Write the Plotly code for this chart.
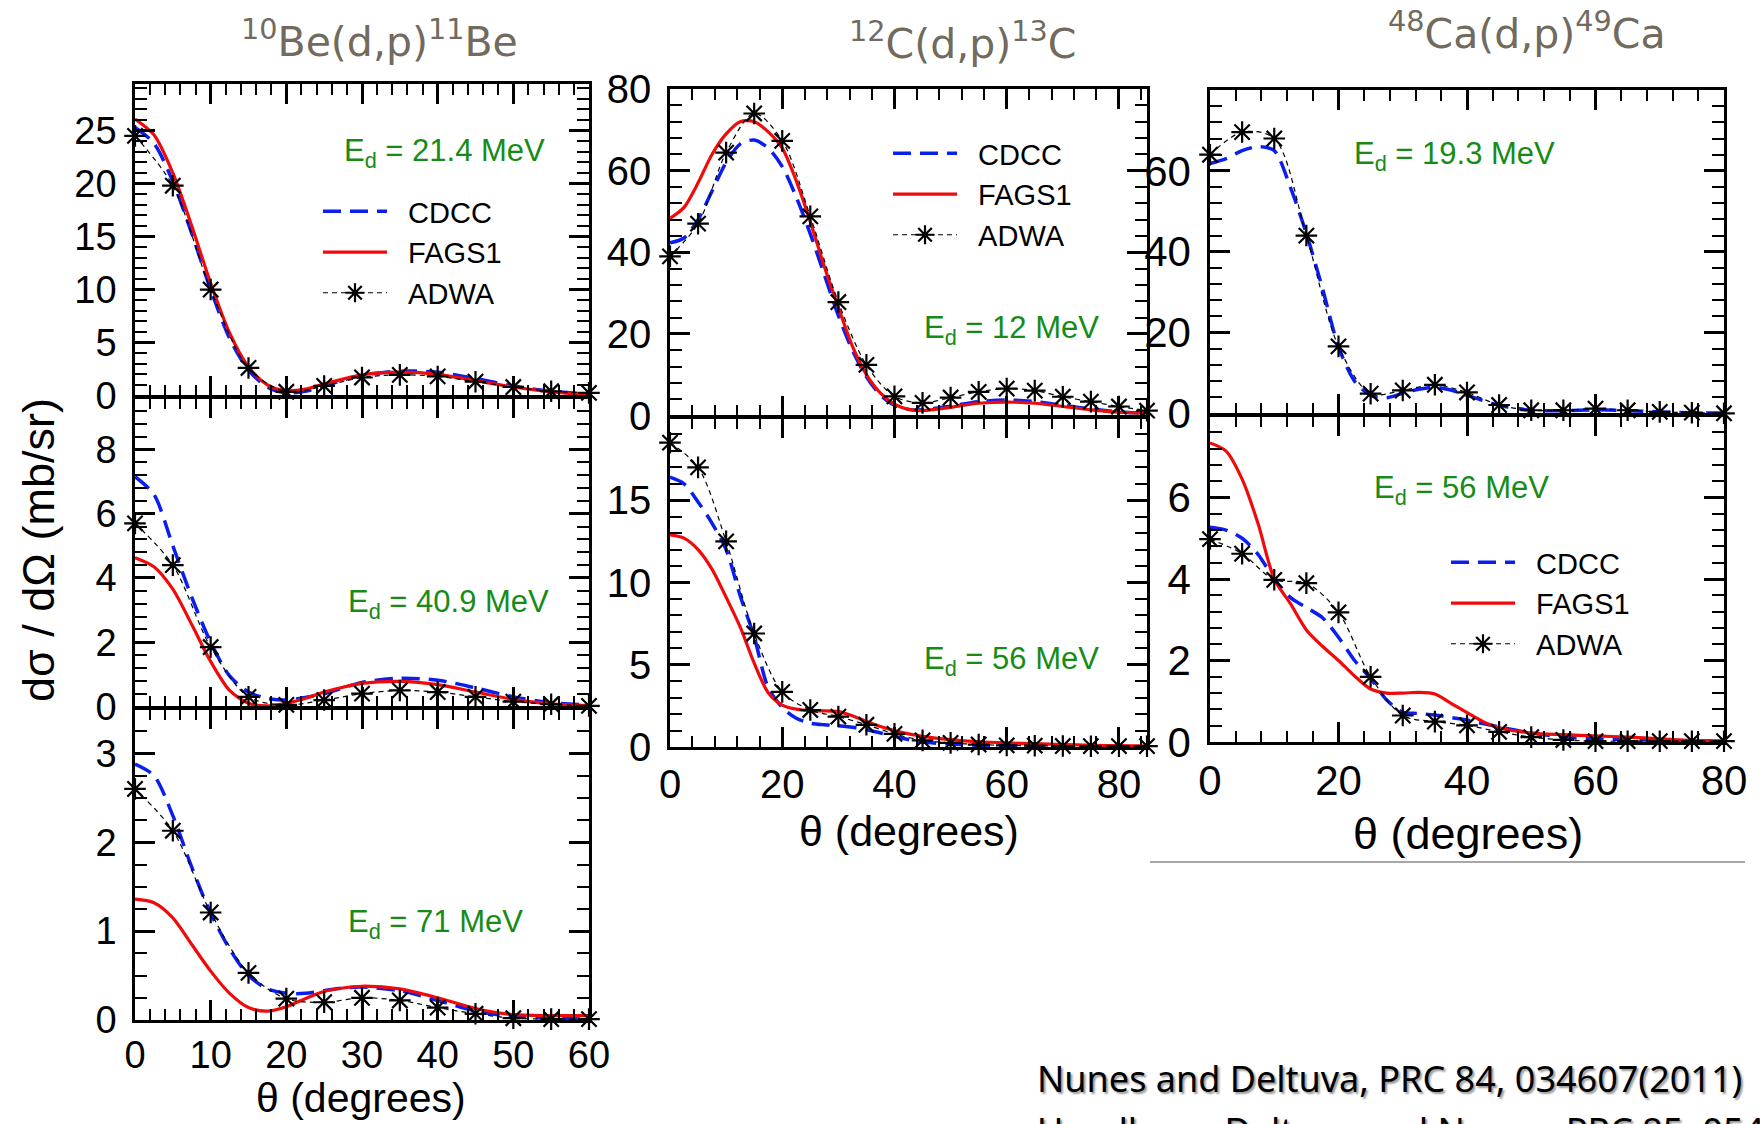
import plotly.graph_objects as go

W, H = 1760, 1124

# ---------------- data ----------------
# 10Be(d,p)11Be, theta 0-60
theta_be = [0, 2.5, 5, 7.5, 10, 12.5, 15, 17.5, 20, 22.5, 25, 27.5, 30, 35, 40, 45, 50, 55, 60]
theta_be_adwa = [0, 5, 10, 15, 20, 25, 30, 35, 40, 45, 50, 55, 60]

be21_cdcc = [25.3, 23.8, 20.2, 15.3, 10.0, 5.4, 2.4, 0.8, 0.25, 0.4, 0.9, 1.45, 1.9, 2.3, 2.2, 1.6, 0.9, 0.4, 0.15]
be21_fags = [26.1, 24.6, 21.0, 16.0, 10.6, 5.9, 2.7, 1.0, 0.45, 0.6, 1.1, 1.55, 1.95, 2.2, 2.0, 1.4, 0.8, 0.35, 0.1]
be21_adwa = [24.5, 19.8, 10.0, 2.6, 0.35, 0.9, 1.7, 1.95, 1.8, 1.3, 0.8, 0.4, 0.25]

be41_cdcc = [7.15, 6.6, 5.0, 3.4, 2.0, 0.95, 0.45, 0.25, 0.2, 0.28, 0.4, 0.58, 0.75, 0.88, 0.82, 0.58, 0.3, 0.12, 0.05]
be41_fags = [4.63, 4.35, 3.65, 2.55, 1.4, 0.5, 0.1, 0.02, 0.1, 0.25, 0.45, 0.6, 0.72, 0.78, 0.68, 0.45, 0.22, 0.08, 0.03]
be41_adwa = [5.7, 4.4, 1.85, 0.3, 0.05, 0.2, 0.4, 0.5, 0.45, 0.3, 0.15, 0.07, 0.02]

be71_cdcc = [2.88, 2.75, 2.3, 1.72, 1.2, 0.8, 0.5, 0.35, 0.3, 0.3, 0.33, 0.36, 0.37, 0.33, 0.22, 0.1, 0.04, 0.02, 0.01]
be71_fags = [1.36, 1.32, 1.15, 0.85, 0.55, 0.3, 0.14, 0.1, 0.15, 0.24, 0.32, 0.36, 0.38, 0.35, 0.25, 0.13, 0.06, 0.05, 0.05]
be71_adwa = [2.6, 2.13, 1.21, 0.53, 0.24, 0.2, 0.25, 0.22, 0.14, 0.07, 0.02, 0.01, 0.01]

# 12C(d,p)13C, theta 0-85
theta_c = [0, 2.5, 5, 7.5, 10, 12.5, 15, 17.5, 20, 22.5, 25, 27.5, 30, 32.5, 35, 37.5, 40, 42.5, 45,
           50, 55, 60, 65, 70, 75, 80, 85]
theta_c_adwa = [0, 5, 10, 15, 20, 25, 30, 35, 40, 45, 50, 55, 60, 65, 70, 75, 80, 85]

c12_cdcc = [42.3, 43.5, 48, 55, 62, 66.5, 67.5, 65.5, 61, 53.5, 44.5, 34.5, 24.5, 16, 9.5, 5, 2.5, 1.5, 1.4,
            2.3, 3.4, 3.8, 3.4, 2.5, 1.6, 0.9, 0.5]
c12_fags = [48.3, 51, 57, 64, 69, 72, 72, 69.5, 65.5, 57.5, 47.5, 36.5, 26.5, 17, 10, 5.5, 2.8, 1.5, 1.2,
            2.0, 3.0, 3.3, 3.0, 2.2, 1.4, 0.8, 0.5]
c12_adwa = [39, 47, 64.4, 74, 67.3, 48.8, 27.8, 12.4, 4.7, 3.1, 4.4, 5.8, 6.6, 6.1, 4.6, 3.4, 2.2, 1.2]

c56_cdcc = [16.4, 16.0, 14.9, 13.6, 12.0, 9.2, 6.7, 3.6, 2.4, 1.75, 1.45, 1.35, 1.3, 1.2, 1.05, 0.85, 0.65, 0.45, 0.3,
            0.18, 0.1, 0.08, 0.06, 0.05, 0.04, 0.03, 0.03]
c56_fags = [12.9, 12.7, 12.0, 10.8, 9.1, 7.3, 5.1, 3.3, 2.55, 2.3, 2.2, 2.2, 2.15, 1.9, 1.55, 1.25, 1.0, 0.8, 0.65,
            0.45, 0.32, 0.25, 0.2, 0.15, 0.1, 0.08, 0.05]
c56_adwa = [18.5, 17.0, 12.5, 6.9, 3.35, 2.25, 1.85, 1.35, 0.8, 0.4, 0.25, 0.15, 0.1, 0.08, 0.06, 0.05, 0.05, 0.05]

# 48Ca(d,p)49Ca, theta 0-80
theta_ca = [0, 2.5, 5, 7.5, 10, 12.5, 15, 17.5, 20, 22.5, 25, 27.5, 30, 32.5, 35, 37.5, 40, 42.5, 45,
            50, 55, 60, 65, 70, 75, 80]
theta_ca_adwa = [0, 5, 10, 15, 20, 25, 30, 35, 40, 45, 50, 55, 60, 65, 70, 75, 80]

ca19_cdcc = [61.8, 63, 65, 66, 65, 56, 44.5, 31, 16.5, 8, 4.5, 3.9, 5.0, 6.0, 6.5, 5.8, 4.5, 3.2, 2.0,
             0.8, 0.7, 0.9, 0.7, 0.4, 0.2, 0.1]
ca19_adwa = [64, 69.6, 68, 44, 16.6, 4.9, 5.7, 7.1, 5.2, 2.1, 0.8, 0.8, 1.2, 0.8, 0.4, 0.2, 0.05]

ca56_cdcc = [5.27, 5.2, 5.0, 4.6, 4.0, 3.55, 3.3, 3.05, 2.57, 2.0, 1.56, 1.03, 0.73, 0.7, 0.66, 0.6, 0.54, 0.45, 0.37,
             0.22, 0.12, 0.08, 0.06, 0.04, 0.03, 0.02]
ca56_fags = [7.34, 7.14, 6.45, 5.35, 4.0, 3.4, 2.75, 2.35, 2.0, 1.62, 1.3, 1.2, 1.2, 1.22, 1.18, 0.95, 0.72, 0.5, 0.35,
             0.22, 0.18, 0.15, 0.12, 0.08, 0.04, 0.03]
ca56_adwa = [4.98, 4.62, 3.98, 3.9, 3.18, 1.6, 0.65, 0.5, 0.41, 0.25, 0.12, 0.05, 0.02, 0.02, 0.02, 0.02, 0.02]

series_names = ["CDCC", "FAGS1", "ADWA"]
titles = ["<sup>10</sup>Be(d,p)<sup>11</sup>Be", "<sup>12</sup>C(d,p)<sup>13</sup>C",
          "<sup>48</sup>Ca(d,p)<sup>49</sup>Ca"]
energies = ["21.4", "40.9", "71", "12", "56", "19.3", "56"]
y_title = "dσ / dΩ (mb/sr)"
x_title = "θ (degrees)"
citations = ["Nunes and Deltuva, PRC 84, 034607(2011)",
             "Upadhyay, Deltuva and Nunes, PRC 85, 054621(2012)"]

# ---------------- layout helpers ----------------
def px(x):
    return x / W

def py(y):
    return 1 - y / H

TICKFONT = "Liberation Sans, Arial, sans-serif"
GREEN = "#168c16"
TITLEGRAY = "#716a5d"
NB = "\u00a0\u00a0"

panels = [
    dict(t=theta_be, ta=theta_be_adwa, c=be21_cdcc, f=be21_fags, a=be21_adwa, xp=(135, 589), yp=(84, 395.5),
         xr=[0, 60], xd=10, xm=2, yr=[0, 29.4], yt=[0, 5, 10, 15, 20, 25], ym=1, xl=False, leg="legend", fs=38),
    dict(t=theta_be, ta=theta_be_adwa, c=be41_cdcc, f=be41_fags, a=be41_adwa, xp=(135, 589), yp=(398, 706.5),
         xr=[0, 60], xd=10, xm=2, yr=[0, 9.6], yt=[0, 2, 4, 6, 8], ym=0.4, xl=False, leg=None, fs=38),
    dict(t=theta_be, ta=theta_be_adwa, c=be71_cdcc, f=be71_fags, a=be71_adwa, xp=(135, 589), yp=(709, 1020),
         xr=[0, 60], xd=10, xm=2, yr=[0, 3.5], yt=[0, 1, 2, 3], ym=0.25, xl=True, leg=None, fs=38),
    dict(t=theta_c, ta=theta_c_adwa, c=c12_cdcc, f=c12_fags, a=c12_adwa, xp=(670, 1147), yp=(89, 415.5),
         xr=[0, 85], xd=20, xm=4, yr=[0, 80], yt=[0, 20, 40, 60, 80], ym=4, xl=False, leg="legend2", fs=40),
    dict(t=theta_c, ta=theta_c_adwa, c=c56_cdcc, f=c56_fags, a=c56_adwa, xp=(670, 1147), yp=(418, 747),
         xr=[0, 85], xd=20, xm=4, yr=[0, 20], yt=[0, 5, 10, 15], ym=1, xl=True, leg=None, fs=40),
    dict(t=theta_ca, ta=theta_ca_adwa, c=ca19_cdcc, f=None, a=ca19_adwa, xp=(1210, 1724), yp=(90, 413.5),
         xr=[0, 80], xd=20, xm=4, yr=[0, 80], yt=[0, 20, 40, 60], ym=4, xl=False, leg=None, fs=42),
    dict(t=theta_ca, ta=theta_ca_adwa, c=ca56_cdcc, f=ca56_fags, a=ca56_adwa, xp=(1210, 1724), yp=(416, 742),
         xr=[0, 80], xd=20, xm=4, yr=[0, 8], yt=[0, 2, 4, 6], ym=0.4, xl=True, leg="legend3", fs=42),
]

fig = go.Figure()

for i, p in enumerate(panels):
    s = "" if i == 0 else str(i + 1)
    xa, ya = "x" + s, "y" + s
    show = p["leg"] is not None
    legname = p["leg"] if show else "legend"
    if p["c"] is not None:
        fig.add_trace(go.Scatter(
            x=p["t"], y=p["c"], mode="lines", name=NB + series_names[0], xaxis=xa, yaxis=ya,
            line=dict(color="#0a1ef0", width=3.5, dash="18px,9px", shape="spline", smoothing=0.8),
            showlegend=show, legend=legname, cliponaxis=True))
    if p["f"] is not None:
        fig.add_trace(go.Scatter(
            x=p["t"], y=p["f"], mode="lines", name=NB + series_names[1], xaxis=xa, yaxis=ya,
            line=dict(color="#f00a0a", width=3.2, shape="spline", smoothing=0.8),
            showlegend=show, legend=legname, cliponaxis=True))
    fig.add_trace(go.Scatter(
        x=p["ta"], y=p["a"], mode="lines+markers", name=NB + series_names[2], xaxis=xa, yaxis=ya,
        line=dict(color="black", width=1.2, dash="5px,4px", shape="spline", smoothing=0.9),
        marker=dict(symbol="asterisk-open", size=18, color="black", line=dict(width=2.2, color="black")),
        showlegend=show, legend=legname, cliponaxis=False))

    axis_common = dict(
        showline=True, linecolor="black", linewidth=2.5, mirror="allticks",
        ticks="inside", ticklen=20, tickwidth=2.5, tickcolor="black",
        showgrid=False, zeroline=False, automargin=False,
        tickfont=dict(family=TICKFONT, size=p["fs"], color="black"),
    )
    fig.update_layout(**{
        "xaxis" + s: dict(
            domain=[px(p["xp"][0]), px(p["xp"][1])], anchor=ya, range=p["xr"],
            tick0=0, dtick=p["xd"], showticklabels=p["xl"], ticklabelstandoff=0,
            minor=dict(ticks="inside", ticklen=11, tickwidth=2.2, tickcolor="black", dtick=p["xm"], tick0=0,
                       showgrid=False),
            **axis_common),
        "yaxis" + s: dict(
            domain=[py(p["yp"][1]), py(p["yp"][0])], anchor=xa, range=p["yr"],
            tickmode="array", tickvals=p["yt"], ticklabelstandoff=8,
            minor=dict(ticks="inside", ticklen=12, tickwidth=2.2, tickcolor="black", dtick=p["ym"], tick0=0,
                       tickmode="linear", showgrid=False),
            **axis_common),
    })

leg_common = dict(xanchor="left", yanchor="top", bgcolor="rgba(0,0,0,0)", itemwidth=64,
                  font=dict(family=TICKFONT, size=29, color="black"), tracegroupgap=0)
fig.update_layout(
    legend=dict(x=px(318), y=py(186), **leg_common),
    legend2=dict(x=px(888), y=py(128), **leg_common),
    legend3=dict(x=px(1446), y=py(537), **leg_common),
)

annotations = []
# titles
for txt, (x, y) in zip(titles, [(379, 39), (963, 41), (1527, 31)]):
    annotations.append(dict(text=txt, x=px(x), y=py(y), xref="paper", yref="paper", showarrow=False,
                            xanchor="center", yanchor="middle",
                            font=dict(family="DejaVu Sans, Verdana, sans-serif", size=41, color=TITLEGRAY)))
# energy labels
for e, (x, y) in zip(energies, [(342, 153), (346, 604), (346, 924), (922, 330), (922, 661), (1352, 156), (1372, 490)]):
    annotations.append(dict(text="E<sub>d</sub> = " + e + " MeV", x=px(x), y=py(y), xref="paper", yref="paper",
                            showarrow=False, xanchor="left", yanchor="middle",
                            font=dict(family=TICKFONT, size=31, color=GREEN)))
# axis titles
annotations.append(dict(text=y_title, x=px(39), y=py(550), xref="paper", yref="paper", showarrow=False,
                        textangle=-90, xanchor="center", yanchor="middle",
                        font=dict(family=TICKFONT, size=45, color="black")))
for (x, y, fs) in [(361, 1098, 41), (909, 831, 43), (1468, 833, 45)]:
    annotations.append(dict(text=x_title, x=px(x), y=py(y), xref="paper", yref="paper", showarrow=False,
                            xanchor="center", yanchor="middle",
                            font=dict(family=TICKFONT, size=fs, color="black")))
# citations
for txt, y in zip(citations, [1078, 1130]):
    annotations.append(dict(text=txt, x=px(1035), y=py(y), xref="paper", yref="paper", showarrow=False,
                            xanchor="left", yanchor="middle",
                            font=dict(family="Noto Sans, DejaVu Sans, sans-serif", size=36, color="black",
                                      shadow="2px 2px 2px #9a9a9a")))

fig.update_layout(
    width=W, height=H, margin=dict(l=0, r=0, t=0, b=0, autoexpand=False),
    paper_bgcolor="white", plot_bgcolor="white",
    annotations=annotations,
    shapes=[dict(type="line", xref="paper", yref="paper", x0=px(1150), x1=px(1745), y0=py(862), y1=py(862),
                 line=dict(color="#8a8a8a", width=1.5))],
)

fig.write_html("out.html")
